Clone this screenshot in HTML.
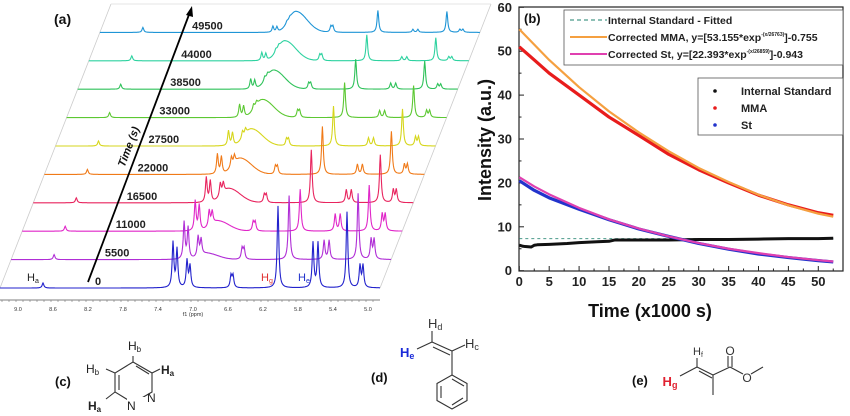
<!DOCTYPE html>
<html><head><meta charset="utf-8">
<style>
html,body{margin:0;padding:0;background:#fff;}
svg{display:block;font-family:"Liberation Sans",Arial,sans-serif;}
</style></head>
<body>
<svg id="fig" width="850" height="416" viewBox="0 0 850 416" xmlns="http://www.w3.org/2000/svg">
  <g id="left"></g>
  <g id="right"></g>
  <g id="struct" stroke="#333" stroke-width="1.1" fill="none">
    <!-- (c) pyridazine -->
    <text x="55" y="386" font-size="13" font-weight="bold" fill="#111" stroke="none">(c)</text>
    <polygon points="133,362 152,373 152,392 133,403 115,392 115,373"/>
    <line x1="136" y1="366" x2="149" y2="374"/><line x1="119" y1="375" x2="119" y2="390"/>
    <line x1="133" y1="362" x2="133" y2="356"/><line x1="115" y1="373" x2="106" y2="369"/>
    <line x1="152" y1="373" x2="160" y2="369"/><line x1="115" y1="392" x2="106" y2="399"/>
    <rect x="127" y="397" width="30" height="10" fill="#fff" stroke="none"/>
    <text x="128" y="350" font-size="12" fill="#222" stroke="none">H<tspan font-size="8" dy="2">b</tspan></text>
    <text x="86" y="373" font-size="12" fill="#222" stroke="none">H<tspan font-size="8" dy="2">b</tspan></text>
    <text x="161" y="374" font-size="12" fill="#222" stroke="none" font-weight="bold">H<tspan font-size="8" dy="2">a</tspan></text>
    <text x="88" y="410" font-size="12" fill="#222" stroke="none" font-weight="bold">H<tspan font-size="8" dy="2">a</tspan></text>
    <text x="127" y="410" font-size="12" fill="#222" stroke="none">N</text>
    <text x="147" y="402" font-size="12" fill="#222" stroke="none">N</text>
    <!-- (d) styrene -->
    <text x="371" y="382" font-size="13" font-weight="bold" fill="#111" stroke="none">(d)</text>
    <line x1="417" y1="349" x2="432" y2="342"/><line x1="432" y1="342" x2="432" y2="331"/>
    <line x1="432" y1="342" x2="452" y2="351"/><line x1="433" y1="347" x2="450" y2="355"/>
    <line x1="452" y1="351" x2="465" y2="345"/><line x1="452" y1="351" x2="452" y2="375"/>
    <polygon points="452,375 467,383.5 467,400.5 452,409 437,400.5 437,383.5"/>
    <line x1="452" y1="379" x2="464" y2="386"/><line x1="463" y1="398" x2="452" y2="405"/><line x1="441" y1="398" x2="441" y2="386"/>
    <text x="400" y="357" font-size="13" fill="#1a2ad8" stroke="none" font-weight="bold">H<tspan font-size="9" dy="2">e</tspan></text>
    <text x="428" y="328" font-size="13" fill="#333" stroke="none">H<tspan font-size="9" dy="2">d</tspan></text>
    <text x="465" y="348" font-size="13" fill="#333" stroke="none">H<tspan font-size="9" dy="2">c</tspan></text>
    <!-- (e) MMA -->
    <text x="632" y="385" font-size="13" font-weight="bold" fill="#111" stroke="none">(e)</text>
    <line x1="680" y1="376" x2="697" y2="367"/><line x1="697" y1="367" x2="697" y2="358"/>
    <line x1="697" y1="367" x2="713" y2="375"/><line x1="699" y1="371" x2="712" y2="378"/>
    <line x1="713" y1="375" x2="713" y2="395"/><line x1="713" y1="375" x2="730" y2="367"/>
    <line x1="728" y1="367" x2="728" y2="356"/><line x1="732" y1="367" x2="732" y2="356"/>
    <line x1="730" y1="367" x2="743" y2="374"/><line x1="751" y1="374" x2="763" y2="367"/>
    <text x="670" y="386" font-size="13" fill="#e02030" stroke="none" font-weight="bold" text-anchor="middle">H<tspan font-size="9" dy="2">g</tspan></text>
    <text x="693" y="355" font-size="11" fill="#333" stroke="none">H<tspan font-size="7" dy="2">f</tspan></text>
    <text x="730" y="355" font-size="12" fill="#333" stroke="none" text-anchor="middle">O</text>
    <text x="747" y="382" font-size="12" fill="#333" stroke="none" text-anchor="middle">O</text>
  </g>
</svg>
<script>
// ---------- right chart data ----------
const timeMMA   = [0, 2.5, 5, 10, 15, 20, 25, 30, 35, 40, 45, 50, 52.5];
const valMMA    = [51, 48, 45, 40, 35, 30.8, 26.5, 23, 20, 17.2, 15, 13.2, 12.6];
const valFitMMA = [55, 51.5, 48, 41.8, 36.3, 31.5, 27.2, 23.4, 20.2, 17.3, 14.9, 13, 12.3];
const timeSt    = [0, 2.5, 5, 10, 15, 20, 25, 30, 35, 40, 45, 50, 52.5];
const valSt     = [20.5, 18.3, 16.6, 14, 11.6, 9.5, 7.8, 6.2, 4.9, 3.8, 3, 2.3, 2];
const valFitSt  = [21.3, 19.2, 17.4, 14.3, 11.7, 9.6, 7.8, 6.3, 5, 4, 3.1, 2.4, 2.1];
const timeIS    = [0, 0.5, 1, 2, 2.5, 3, 5, 8, 10, 13, 15, 16, 20, 25, 30, 35, 40, 45, 50, 52.5];
const valIS     = [5.8, 5.6, 5.5, 5.4, 5.8, 5.9, 6, 6.2, 6.4, 6.6, 6.7, 7, 7, 7, 7.1, 7.1, 7.2, 7.3, 7.3, 7.4];
const fitISTime = [0, 52.5];
const fitISVal  = [7.3, 7.3];
const xTicks = [0, 5, 10, 15, 20, 25, 30, 35, 40, 45, 50];
const yTicks = [0, 10, 20, 30, 40, 50, 60];

// ---------- left NMR data ----------
const rowLabels = ["0","5500","11000","16500","22000","27500","33000","38500","44000","49500"];
const rowColors = ["#2222cc","#b02ed6","#e026c8","#e8245e","#f07a18","#d6d61c","#5cc832","#2fc25a","#2ed2a0","#1f95d6"];
const peakPos   = [43, 173, 177, 187, 190, 231, 233, 278, 313, 318, 347, 360, 363];
const hHa   = [5,5,5,5,5,5,5,5,5,5];
const hSt1  = [45,37,30,25,20,15,13,10,8,6];
const hSt2  = [27,20,16,13,10,7,5,4,3,2];
const hSt3  = [12,11,9,8,8,7,7,6,6,6];
const hMMA1 = [82,64,42,53,48,40,35,30,26,22];
const hMMA2 = [76,66,46,48,43,37,32,28,23,21];
const hDbl1 = [45,19,17,13,10,8,7,6,4,3];
const hDbl2 = [22,20,17,13,10,9,7,5,4,3];
const hHump = [0,6,10,14,16,17,18,19,20,21];
const ppmTicks = ["9.0","8.6","8.2","7.8","7.4","7.0","6.6","6.2","5.8","5.4","5.0"];

const NS = "http://www.w3.org/2000/svg";
function mk(tag, attrs, parent){const e=document.createElementNS(NS,tag);for(const k in attrs)e.setAttribute(k,attrs[k]);parent.appendChild(e);return e;}

// ---------- right chart ----------
const R = document.getElementById('right');
const px0=519.3, pxPer=5.98, py0=270.7, pyPer=4.39;
const X = t => px0 + t*pxPer;
const Y = v => py0 - v*pyPer;
const frame = mk('rect',{x:519,y:7,width:324,height:264,fill:'none',stroke:'#222','stroke-width':1.2},R);


xTicks.forEach(t=>{
  mk('line',{x1:X(t),y1:271,x2:X(t),y2:266,stroke:'#222'},R);
  mk('line',{x1:X(t+2.5),y1:271,x2:X(t+2.5),y2:268.5,stroke:'#222'},R);
  const tx = mk('text',{x:X(t),y:286,'font-size':13,'font-weight':'bold','text-anchor':'middle',fill:'#222'},R);
  tx.textContent = t;
  
  
});
yTicks.forEach(v=>{
  mk('line',{x1:519,y1:Y(v),x2:524,y2:Y(v),stroke:'#222'},R);
  if(v<60) mk('line',{x1:519,y1:Y(v+5),x2:521.5,y2:Y(v+5),stroke:'#222'},R);
  const tx = mk('text',{x:512,y:Y(v)+4.5,'font-size':13,'font-weight':'bold','text-anchor':'end',fill:'#222'},R);
  tx.textContent = v;
  
  
});
const xt = mk('text',{x:650,y:317,'font-size':18,'font-weight':'bold','text-anchor':'middle',fill:'#111'},R);
xt.textContent='Time (x1000 s)';


const yt = mk('text',{x:0,y:0,'font-size':18,'font-weight':'bold','text-anchor':'middle',fill:'#111',transform:'translate(491,140) rotate(-90)'},R);
yt.textContent='Intensity (a.u.)';


const pl = mk('text',{x:524,y:23,'font-size':13,'font-weight':'bold',fill:'#111'},R);
pl.textContent='(b)';



function series(ts, vs, color, w, name, dash){
  const p = mk('polyline',{points:ts.map((t,i)=>X(t)+','+Y(vs[i])).join(' '),fill:'none',stroke:color,'stroke-width':w,'stroke-linejoin':'round'},R);
  if(dash) p.setAttribute('stroke-dasharray',dash);
  
  
}
series(fitISTime, fitISVal, '#4a9a8a', 1, 'is-fitted-line', '3,3');
series(timeIS, valIS, '#111', 3, 'internal-standard-series');
series(timeMMA, valMMA, '#e81c1c', 3.2, 'mma-series');
series(timeSt, valSt, '#2233cc', 3.2, 'st-series');
series(timeMMA, valFitMMA, '#f5a040', 2.2, 'corrected-mma-fit');
series(timeSt, valFitSt, '#e040b0', 2.2, 'corrected-st-fit');

// legends
const lg1 = mk('g',{},R);


mk('rect',{x:564,y:10,width:279,height:55,fill:'#fff',stroke:'#555','stroke-width':0.8},lg1);
const l1 = [['Internal Standard - Fitted','#4a9a8a','4,3','is-fitted'],['Corrected MMA, y=[53.155*exp','#f5a040',null,'mma-fit','-(x/26763)',']-0.755'],['Corrected St, y=[22.393*exp','#e040b0',null,'st-fit','-(x/26859)',']-0.943']];
l1.forEach((e,i)=>{
  const y = 20 + i*17;
  const ln = mk('line',{x1:570,y1:y,x2:607,y2:y,stroke:e[1],'stroke-width':e[2]?1.2:2,'stroke-dasharray':e[2]||'none'},lg1);
  
  
  const t = mk('text',{x:608,y:y+4,'font-size':10.5,'font-weight':'bold',fill:'#222'},lg1);
  t.textContent = e[0];
  if(e[4]){
    const s=document.createElementNS(NS,'tspan');s.setAttribute('font-size','5');s.setAttribute('dy','-5');s.textContent=e[4];t.appendChild(s);
    const s2=document.createElementNS(NS,'tspan');s2.setAttribute('dy','5');s2.textContent=e[5];t.appendChild(s2);
  }
  
  
});
const lg2 = mk('g',{},R);


mk('rect',{x:698,y:78,width:145,height:57,fill:'#fff',stroke:'#555','stroke-width':0.8},lg2);
[['Internal Standard','#111'],['MMA','#e81c1c'],['St','#2233cc']].forEach((e,i)=>{
  const y = 91 + i*17;
  mk('circle',{cx:715,cy:y,r:1.8,fill:e[1]},lg2);
  const t = mk('text',{x:741,y:y+4,'font-size':11,'font-weight':'bold',fill:'#222'},lg2);
  t.textContent=e[0];
  
  
});

// ---------- left NMR stack ----------
const L = document.getElementById('left');
const base0=288, rowDy=28.4, rowDx=11.1, rowW=380;
for(let i=0;i<rowLabels.length;i++){
  const bx=i*rowDx, by=base0-i*rowDy;
  mk('line',{x1:bx,y1:by,x2:bx+rowDx,y2:by-rowDy,stroke:'#ccc','stroke-width':0.8},L);
  mk('line',{x1:bx+rowW,y1:by,x2:bx+rowW+rowDx,y2:by-rowDy,stroke:'#ccc','stroke-width':0.8},L);
}
mk('line',{x1:10*rowDx,y1:base0-10*rowDy,x2:10*rowDx+rowW,y2:base0-10*rowDy,stroke:'#ddd','stroke-width':0.8},L);
function lor(x,c,h,g){return h*g*g/((x-c)*(x-c)+g*g);}
for(let i=rowLabels.length-1;i>=0;i--){
  const bx=i*rowDx, by=base0-i*rowDy;
  const hs=[hHa[i],hSt1[i],hSt1[i]*0.85,hSt2[i],hSt2[i]*0.8,hSt3[i],hSt3[i],hMMA1[i],hDbl1[i],hDbl1[i],hMMA2[i],hDbl2[i],hDbl2[i]];
  const pts=[];
  for(let x=0;x<=rowW;x+=0.5){
    let y=0;
    peakPos.forEach((c,k)=>{ y+=lor(x,c,hs[k],1.0); });
    const d=(x-196)/13; y+= hHump[i]*Math.exp(-d*d*(d<0?1.6:0.7));
    pts.push((bx+x).toFixed(1)+','+(by-y).toFixed(1));
  }
  const p=mk('polyline',{points:pts.join(' '),fill:'none',stroke:rowColors[i],'stroke-width':1.1},L);
  
  
  const t=mk('text',{x:(i===0?95:94+i*10.9),y:by-3,'font-size':11,'font-weight':'bold',fill:'#222'},L);
  t.textContent=rowLabels[i];
  
  
}
mk('line',{x1:88,y1:282,x2:190,y2:12,stroke:'#000','stroke-width':1.8},L);
mk('polygon',{points:'192,6 186,15 193,17',fill:'#000'},L);
const at=mk('text',{x:0,y:0,'font-size':11,'font-weight':'bold','font-style':'italic',fill:'#111','text-anchor':'middle',transform:'translate(132,148) rotate(-69)'},L);
at.textContent='Time (s)';


const pa=mk('text',{x:54,y:24,'font-size':14,'font-weight':'bold',fill:'#111'},L);
pa.textContent='(a)';


const ha=mk('text',{x:27,y:281,'font-size':11,fill:'#222'},L); ha.innerHTML='H<tspan font-size="7" dy="2">a</tspan>';
const hg=mk('text',{x:261,y:281,'font-size':11,fill:'#e03030'},L); hg.innerHTML='H<tspan font-size="7" dy="2">g</tspan>';
const he=mk('text',{x:298,y:281,'font-size':11,fill:'#2233cc'},L); he.innerHTML='H<tspan font-size="7" dy="2">e</tspan>';
mk('line',{x1:0,y1:300,x2:380,y2:300,stroke:'#555','stroke-width':0.8},L);
for(let x=2;x<380;x+=7) mk('line',{x1:x,y1:300,x2:x,y2:302,stroke:'#777','stroke-width':0.6},L);
ppmTicks.forEach((s,i)=>{
  const t=mk('text',{x:18+i*35,y:311,'font-size':5.5,'text-anchor':'middle',fill:'#333'},L);
  t.textContent=s;
  
  
});
const fx=mk('text',{x:193,y:316,'font-size':5.5,'text-anchor':'middle',fill:'#333'},L);
fx.textContent='f1 (ppm)';


</script>
</body></html>
